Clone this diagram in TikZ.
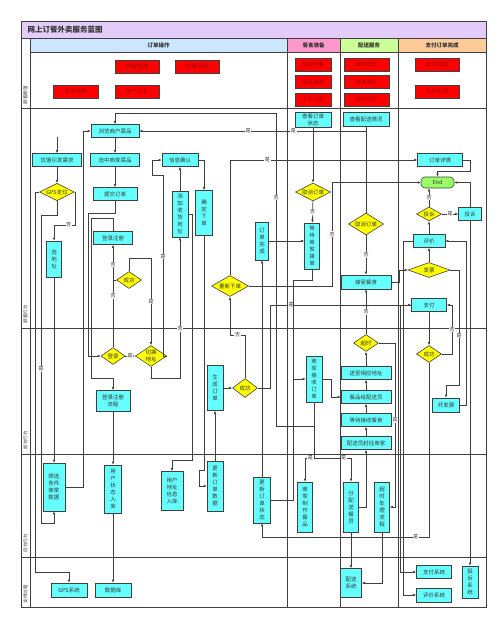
\documentclass[tikz,border=0pt]{standalone}
\usepackage{fontspec}
\setmainfont{Noto Sans CJK SC}
\usepackage{xcolor}
\usepackage{tikz}
\usetikzlibrary{arrows.meta,shapes.geometric}
\definecolor{softlilac}{HTML}{E3CCFA}
\definecolor{headblue}{HTML}{CCE6FF}
\definecolor{headpink}{HTML}{FF99CC}
\definecolor{headgreen}{HTML}{CCFF99}
\definecolor{headorange}{HTML}{FFCC99}
\definecolor{softcyan}{HTML}{66FFFF}
\definecolor{wishred}{HTML}{FF0000}
\definecolor{wishtext}{HTML}{990000}
\definecolor{softyellow}{HTML}{FFFF00}
\definecolor{endgreen}{HTML}{99FF66}
\definecolor{edgegray}{HTML}{404040}

\begin{document}
\begin{tikzpicture}[x=1pt, y=-1pt,
  every node/.style={font=\fontsize{5.5}{7}\selectfont, text=black!80},
  hcell/.style={draw=edgegray, line width=0.6pt, minimum height=14pt, inner sep=0pt, font=\bfseries\fontsize{5.5}{7}\selectfont},
  lanelabel/.style={rotate=90, inner sep=0pt, font=\fontsize{4.5}{5}\selectfont},
  wish/.style={draw=edgegray, fill=wishred, text=wishtext, line width=0.6pt, inner sep=1pt, minimum height=13pt},
  proc/.style={draw=edgegray, fill=softcyan, line width=0.6pt, inner sep=1pt, align=center, minimum height=13pt},
  decide/.style={diamond, draw=edgegray, fill=softyellow, line width=0.6pt, inner sep=0.5pt, shape aspect=2, align=center},
  endbox/.style={draw=edgegray, fill=endgreen, rounded corners=4pt, line width=0.6pt, inner sep=1pt, minimum width=33pt, minimum height=11pt},
  flow/.style={-{Latex[length=3pt,width=2.6pt]}, draw=edgegray, line width=0.6pt},
  link/.style={draw=edgegray, line width=0.6pt},
  tag/.style={fill=white, inner sep=0.6pt, font=\fontsize{5}{6}\selectfont},
  lane/.style={draw=edgegray, line width=0.8pt}]
  \useasboundingbox (0,0) rectangle (500,622);

  % frame and lanes
  \fill[softlilac] (21,21) rectangle (486,38);
  \node[anchor=west, font=\bfseries\fontsize{7.5}{9}\selectfont] (title) at (24,29.5) {网上订餐外卖服务蓝图};
  \node[hcell, fill=headblue, minimum width=257pt] (horder) at (158.5,45) {订单操作};
  \node[hcell, fill=headpink, minimum width=53pt] (hmeal) at (313.5,45) {餐食准备};
  \node[hcell, fill=headgreen, minimum width=58pt] (hsend) at (369,45) {配送服务};
  \node[hcell, fill=headorange, minimum width=88pt] (hpay) at (442,45) {支付订单完成};
  \foreach \y in {108,328,454,557} \draw[lane] (21,\y) -- (486,\y);
  \foreach \x in {30,287,340,398} \draw[lane] (\x,38) -- (\x,607);
  \draw[lane] (21,38) -- (486,38);
  \draw[lane] (21,21) rectangle (486,607);
  \node[lanelabel] (lwish) at (25.5,95) {顾客期望};
  \node[lanelabel] (lact) at (25.5,314) {顾客行为};
  \node[lanelabel] (lfront) at (25.5,440) {前台行为};
  \node[lanelabel] (lback) at (25.5,543) {后台行为};
  \node[lanelabel] (lsupp) at (25.5,594) {支持过程};

  % expectations
  \node[wish, minimum width=44pt] (fbkj) at (137,66.5) {方便快捷};
  \node[wish, minimum width=44pt] (yhhd) at (197,66.5) {优惠活动};
  \node[wish, minimum width=45pt] (xtlc) at (76,91.5) {系统流畅};
  \node[wish, minimum width=44pt] (shzd) at (137,91.5) {商户众多};
  \node[wish, minimum width=36pt] (bzhk) at (313,64.5) {包装好看};
  \node[wish, minimum width=36pt] (cpmw) at (313,82) {餐品美味};
  \node[wish, minimum width=36pt] (gjws) at (313,99.5) {干净卫生};
  \node[wish, minimum width=45pt] (zsdd) at (366.5,64.5) {准时送达};
  \node[wish, minimum width=45pt] (cswh) at (366.5,82) {餐食完好};
  \node[wish, minimum width=45pt] (fwlh) at (366.5,99.5) {服务良好};
  \node[wish, minimum width=44pt] (zfkj) at (437,64.5) {支付快捷};
  \node[wish, minimum width=44pt] (jsfk) at (437,91.5) {及时反馈};

  % customer actions
  \node[proc, minimum width=48pt] (llsp) at (115,131) {浏览商户菜品};
  \node[proc, minimum width=49pt] (xzsp) at (115,160) {选中商家菜品};
  \node[proc, minimum width=49pt] (jexq) at (57,160) {饥饿引发需求};
  \node[proc, minimum width=44pt] (tjdd) at (115,194) {提交订单};
  \node[proc, minimum width=36pt] (xxqr) at (180,160) {信息确认};
  \node[proc, minimum width=36pt, minimum height=15pt] (ckzt) at (313,119.5) {查看订单\\状态};
  \node[proc, minimum width=46pt, minimum height=14pt] (ckps) at (366,119) {查看配送情况};
  \node[proc, minimum width=45pt] (ddxq) at (440,160) {订单详情};
  \node[proc, minimum width=39pt] (dlzc) at (113,238) {登录注册};
  \node[proc, minimum width=50pt, minimum height=14pt] (jssc) at (366,282) {接受餐食};
  \node[proc, minimum width=32pt] (pj) at (429,241) {评价};
  \node[proc, minimum width=35pt] (zf) at (429,305) {支付};
  \node[proc, minimum width=23pt] (tsbox) at (470,214) {投诉};
  \node[proc, minimum width=15pt, minimum height=36pt] (xdz) at (54,259) {选\\地\\址};
  \node[proc, minimum width=16pt, minimum height=46pt] (tjdz) at (180,214) {添\\加\\收\\货\\地\\址};
  \node[proc, minimum width=17pt, minimum height=45pt] (qdxd) at (204,213) {确\\定\\下\\单};
  \node[proc, minimum width=13pt, minimum height=38pt] (ddwc) at (262,241) {订\\单\\完\\成};
  \node[proc, minimum width=15pt, minimum height=46pt] (ddjd) at (312,246) {等\\待\\商\\家\\接\\单};
  \node[endbox] (endn) at (437.5,182.5) {End};
  \node[decide, minimum width=33pt, minimum height=17pt] (gps) at (57,192) {GPS定位};
  \node[decide, minimum width=32pt, minimum height=18pt] (qxdd1) at (313,192) {取消订单};
  \node[decide, minimum width=32pt, minimum height=22pt] (qxdd2) at (366,224) {取消订单};
  \node[decide, minimum width=25pt, minimum height=14pt] (tsd) at (429,214) {投诉};
  \node[decide, minimum width=42pt, minimum height=15pt] (fp) at (429,270) {发票};
  \node[decide, minimum width=37pt, minimum height=21pt] (cxxd) at (230,286) {重新下单};
  \node[decide, minimum width=25pt, minimum height=17pt] (cg1) at (129,280) {成功};

  % front stage
  \node[decide, minimum width=24pt, minimum height=17pt] (dl) at (113,356) {登录};
  \node[decide, shape aspect=1.5, minimum width=25pt, minimum height=17pt] (qhdz) at (151,356) {切换\\地址};
  \node[proc, minimum width=34pt, minimum height=21pt] (dlzclc) at (113,401) {登录注册\\流程};
  \node[proc, minimum width=16pt, minimum height=45pt] (scdd) at (215,388) {生\\成\\订\\单};
  \node[decide, minimum width=25pt, minimum height=19pt] (cg2) at (245,388) {成功};
  \node[proc, minimum width=16pt, minimum height=46pt] (jsdd) at (314,379) {商\\家\\接\\收\\订\\单};
  \node[decide, minimum width=25pt, minimum height=17pt] (cs) at (366,343) {超时};
  \node[proc, minimum width=50pt] (szdz) at (366,373) {送至相应地址};
  \node[proc, minimum width=50pt] (cpgp) at (366,397) {餐品给配送员};
  \node[proc, minimum width=50pt] (ddjs) at (366,420) {等待接收餐食};
  \node[proc, minimum width=50pt] (psgw) at (366,443) {配送员赶往商家};
  \node[decide, minimum width=25pt, minimum height=17pt] (cg3) at (429,354) {成功};
  \node[proc, minimum width=27pt, minimum height=14pt] (kfp) at (446,405) {开发票};

  % back stage
  \node[proc, minimum width=22pt, minimum height=48pt] (sxsj) at (54,487) {筛选\\条件\\商家\\数据};
  \node[proc, minimum width=17pt, minimum height=48pt] (yhzt) at (113,489) {用\\户\\状\\态\\入\\库};
  \node[proc, minimum width=22pt, minimum height=39pt] (dzrk) at (172,491) {用户\\地址\\信息\\入库};
  \node[proc, minimum width=16pt, minimum height=50pt] (gxsj) at (215,486) {更\\新\\订\\单\\数\\据};
  \node[proc, minimum width=17pt, minimum height=46pt] (gxzt) at (262,500) {更\\新\\订\\单\\状\\态};
  \node[proc, minimum width=15pt, minimum height=50pt] (zzcp) at (305,507) {商\\家\\制\\作\\餐\\品};
  \node[proc, minimum width=15pt, minimum height=50pt] (fpcy) at (351,507) {分\\配\\送\\餐\\员};
  \node[proc, minimum width=15pt, minimum height=50pt] (csclc) at (382,507) {超\\时\\处\\理\\流\\程};

  % support
  \node[proc, minimum width=36pt, minimum height=14pt] (gpsxt) at (69,590) {GPS系统};
  \node[proc, minimum width=36pt, minimum height=14pt] (sjk) at (113,590) {数据库};
  \node[proc, minimum width=21pt, minimum height=29pt] (psxt) at (351,583) {配送\\系统};
  \node[proc, minimum width=35pt] (zfxt) at (434,572) {支付系统};
  \node[proc, minimum width=35pt, minimum height=14pt] (pjxt) at (434,595) {评价系统};
  \node[proc, minimum width=16pt, minimum height=32pt] (tsxt) at (470,582) {投\\诉\\系\\统};

  % connectors, left part
  \coordinate (hungerin) at (57,137);
  \draw[flow] (hungerin) -- (jexq);
  \draw[flow] (jexq) -- (gps);
  \draw[flow] (llsp) -- (xzsp);
  \draw[flow] (xzsp) -- (tjdd);
  \draw[flow] (gps.west) -- (35,192) -- (35,572) -| (gpsxt.north);
  \draw[flow] (gps.south) -- (57,215) -- (41,215) -- node[tag]{是} (41,523) -| (sxsj.south);
  \draw[flow] (gps.east) -- (75,192) -- (75,225) -- node[tag,pos=0.3]{否} (54,225) -- (xdz.north);
  \draw[flow] (xdz) -- (sxsj);
  \draw[flow] (sxsj.east) -- (83,487) -- (83,131) -- (llsp.west);
  \draw[flow] (tjdd.south) -- (115,213) -- (88,213) -- (88,356) -- (dl.west);
  \draw[flow] (dlzc.north) -- (113,218) -- (91,218) -- (91,378) -| (dlzclc.north);
  \draw[flow] (dl.north) -- node[tag,pos=0.5]{否} node[tag,pos=0.81]{否} (dlzc.south);
  \draw[link] (cg1.west) -- (cg1.west -| dl.north);
  \draw[flow] (cg1.north) -- (129,258) -| node[tag,pos=0.75]{是} (qhdz.north);
  \draw[flow] (dl.east) -- node[tag]{是} (qhdz.west);
  \draw[flow] (qhdz.east) -- (163,356) -- node[tag,pos=0.55]{是} (163,175) -- (152,175) -- (152,160) -- (xxqr.west);
  \draw[flow] (qhdz.south) -- (151,378) -- (180,378) -- node[tag,pos=0.35]{否} (tjdz.south);
  \draw[flow] (tjdz) -- (xxqr);
  \draw[flow] (tjdz.east) -- (192,214) -- (192,460) -| (dzrk.north);
  \draw[flow] (xxqr.east) -| (qdxd.north);
  \draw[flow] (qdxd.south) -- (204,470) -- (199,470) |- (gxsj.west);
  \draw[flow] (gxsj) -- (scdd);
  \draw[flow] (scdd) -- (cg2);
  \draw[flow] (cg2.north) -- (245,335) -| node[tag,pos=0.25]{否} (cxxd.south);
  \draw[flow] (cg2.east) -- (270,388) -- (270,305) -- node[tag,pos=0.15]{是} (zf.west);
  \draw[flow] (cxxd.east) -- (332,286) -- node[tag]{否} (332,182.5) -- (endn.west);
  \draw[flow] (cxxd.north) -- (230,160) -- node[tag,pos=0.2]{是} (ddxq.west);
  \draw[flow] (dlzclc) -- (yhzt);
  \draw[flow] (yhzt) -- (sjk);

  % connectors, meal and delivery
  \draw[flow] (ckzt) -- (qxdd1);
  \draw[flow] (qxdd1) -- node[tag]{否} (ddjd);
  \draw[flow] (ddwc.east) -- (ddwc.east -| ddjd.west);
  \draw[flow] (ddjd.south) -- (312,280) -- (293,280) |- (jsdd.west);
  \draw[link] (gxzt.east) -- (293,500) -- (293,379);
  \draw[flow] (jsdd.east) -- (331,379) |- (cpgp.west);
  \coordinate (jdno) at (314,426);
  \coordinate (jdfork) at (314,458);
  \draw[link] (jsdd.south) -- (jdfork);
  \draw[flow] (jdfork) -| node[tag,pos=0.2]{是} (zzcp.north);
  \draw[flow] (jdfork) -| node[tag,pos=0.4]{是} (fpcy.north);
  \draw[flow] (jdno) -- (276,426) -- node[tag,pos=0.73]{否} (276,113) -| (llsp.north);
  \draw[flow] (fpcy.east) -| (psgw.south);
  \draw[flow] (psgw) -- (ddjs);
  \draw[flow] (ddjs) -- (cpgp);
  \draw[flow] (cpgp) -- (szdz);
  \draw[flow] (szdz) -- (cs);
  \draw[flow] (cs) -- node[tag]{否} (jssc);
  \draw[flow] (cs.east) -- (395,343) -- node[tag,pos=0.47]{是} (395,507) -- (csclc.east);
  \draw[flow] (fpcy) -- (psxt);
  \draw[flow] (csclc.south) |- (psxt.east);
  \draw[flow] (qxdd2) -- node[tag]{否} (jssc);
  \draw[link] (ckps) -- (366,131);
  \draw[flow] (qxdd2.north) -- (366,131) -- node[tag,pos=0.32]{是} node[tag,pos=0.52]{是} (llsp.east);

  % connectors, payment
  \draw[flow] (ddxq.east) -- (470,160) -- (470,171) -| (endn.north);
  \draw[flow] (tsbox.north) |- (endn.east);
  \draw[flow] (tsd.north) -- node[tag]{否} (tsd.north |- endn.south);
  \draw[flow] (tsd.east) -- node[tag]{是} (tsbox.west);
  \draw[flow] (pj) -- (tsd);
  \draw[flow] (fp) -- (pj);
  \draw[flow] (jssc.east) -- (399,282) -- (399,270) -- (fp.west);
  \draw[flow] (pj.west) -- (403,241) -- (403,595) -- (pjxt.west);
  \draw[flow] (zf.west) -- (400,305) -- (400,572) -- (zfxt.west);
  \draw[flow] (zf) -- (cg3);
  \draw[flow] (cg3.east) -- (452,354) -- node[tag]{否} (452,305) -- (zf.east);
  \draw[flow] (fp.east) -- (459,270) -- node[tag,pos=0.57]{是} (459,385) -| (kfp.north);
  \draw[flow] (kfp.east) -- (466,405) -- (466,241) -- (pj.east);
  \draw[flow] (cg3.south) -- (429,537) -- node[tag,pos=0.08]{是} (262,537) -- (gxzt.south);
  \draw[flow] (gxzt) -- (ddwc);
  \draw[flow] (tsbox) -- (tsxt);
\end{tikzpicture}
\end{document}
